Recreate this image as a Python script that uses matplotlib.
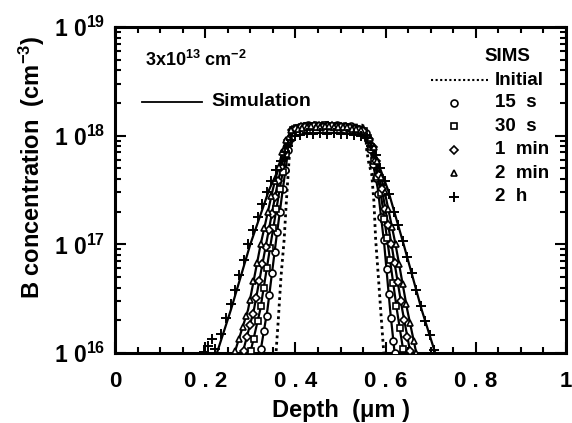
import numpy as np
import matplotlib
matplotlib.use("Agg")
import matplotlib.pyplot as plt
from matplotlib.ticker import FixedLocator, LogLocator, NullFormatter, FixedFormatter

plt.rcParams['font.family'] = ['Liberation Sans', 'DejaVu Sans']
plt.rcParams['font.weight'] = 'bold'
plt.rcParams['mathtext.fontset'] = 'custom'
plt.rcParams['mathtext.rm'] = 'Liberation Sans:bold'
plt.rcParams['mathtext.it'] = 'Liberation Sans:bold'
plt.rcParams['mathtext.bf'] = 'Liberation Sans:bold'
plt.rcParams['mathtext.default'] = 'rm'

# ---------------- data ----------------
# initial (as-implanted) profile, dotted
init_depth = [0.352, 0.357, 0.362, 0.368, 0.375, 0.380, 0.384, 0.388, 0.392, 0.400, 0.450, 0.500, 0.548, 0.555, 0.558, 0.563, 0.569, 0.574, 0.578, 0.584, 0.590, 0.596, 0.600]
init_conc = [0.8e16, 1.0e16, 2.0e16, 5.0e16, 1.1e17, 2.5e17, 4.5e17, 8.0e17, 1.15e18, 1.25e18, 1.26e18, 1.26e18, 1.25e18, 1.2e18, 7.4e17, 5.5e17, 4.5e17, 2.5e17, 1.1e17, 5.0e16, 2.2e16, 1.0e16, 0.8e16]

# simulation curves (solid)
sim15s_depth = [0.318, 0.322, 0.338, 0.356, 0.372, 0.385, 0.395, 0.410, 0.430, 0.470, 0.510, 0.535, 0.555, 0.565, 0.583, 0.597, 0.610, 0.620, 0.624]
sim15s_conc = [0.8e16, 1.0e16, 2.5e16, 1.0e17, 3.2e17, 7.9e17, 1.12e18, 1.2e18, 1.23e18, 1.24e18, 1.22e18, 1.18e18, 1.12e18, 7.9e17, 3.2e17, 1.0e17, 2.5e16, 1.0e16, 0.8e16]
sim30s_depth = [0.295, 0.300, 0.322, 0.345, 0.365, 0.382, 0.394, 0.410, 0.430, 0.470, 0.510, 0.535, 0.556, 0.568, 0.588, 0.605, 0.625, 0.640, 0.645]
sim30s_conc = [0.8e16, 1.0e16, 2.5e16, 1.0e17, 3.2e17, 7.9e17, 1.12e18, 1.19e18, 1.22e18, 1.23e18, 1.21e18, 1.17e18, 1.12e18, 7.9e17, 3.2e17, 1.0e17, 2.5e16, 1.0e16, 0.8e16]
sim1m_depth = [0.278, 0.283, 0.308, 0.335, 0.358, 0.378, 0.392, 0.410, 0.430, 0.470, 0.510, 0.535, 0.556, 0.571, 0.592, 0.613, 0.637, 0.655, 0.660]
sim1m_conc = [0.8e16, 1.0e16, 2.5e16, 1.0e17, 3.2e17, 7.9e17, 1.12e18, 1.18e18, 1.21e18, 1.22e18, 1.2e18, 1.16e18, 1.12e18, 7.9e17, 3.2e17, 1.0e17, 2.5e16, 1.0e16, 0.8e16]
sim2m_depth = [0.259, 0.265, 0.295, 0.323, 0.350, 0.374, 0.390, 0.410, 0.430, 0.470, 0.510, 0.535, 0.556, 0.574, 0.597, 0.622, 0.648, 0.668, 0.674]
sim2m_conc = [0.8e16, 1.0e16, 2.5e16, 1.0e17, 3.2e17, 7.9e17, 1.12e18, 1.17e18, 1.2e18, 1.21e18, 1.19e18, 1.15e18, 1.12e18, 7.9e17, 3.2e17, 1.0e17, 2.5e16, 1.0e16, 0.8e16]
sim2h_depth = [0.219, 0.226, 0.257, 0.300, 0.342, 0.385, 0.400, 0.420, 0.450, 0.475, 0.500, 0.530, 0.555, 0.570, 0.605, 0.640, 0.680, 0.710, 0.717]
sim2h_conc = [0.8e16, 1.0e16, 2.5e16, 1.0e17, 3.2e17, 7.9e17, 1.0e18, 1.04e18, 1.06e18, 1.06e18, 1.06e18, 1.04e18, 1.0e18, 7.9e17, 3.2e17, 1.0e17, 2.5e16, 1.0e16, 0.8e16]

# SIMS data
sims15s_depth = [0.324, 0.330, 0.336, 0.342, 0.348, 0.354, 0.360, 0.366, 0.372, 0.378, 0.384, 0.390, 0.398, 0.405, 0.412, 0.420, 0.428, 0.436, 0.444, 0.452, 0.460, 0.468, 0.476, 0.484, 0.492, 0.500, 0.508, 0.516, 0.524, 0.532, 0.540, 0.548, 0.556, 0.560, 0.566, 0.572, 0.578, 0.584, 0.590, 0.596, 0.602, 0.607, 0.612, 0.617, 0.621]
sims15s_conc = [1.1e16, 1.6e16, 2.2e16, 3.4e16, 5.4e16, 8.5e16, 1.3e17, 2.0e17, 3.2e17, 4.8e17, 7.4e17, 9.5e17, 1.15e18, 1.18e18, 1.21e18, 1.22e18, 1.25e18, 1.23e18, 1.25e18, 1.22e18, 1.24e18, 1.26e18, 1.22e18, 1.24e18, 1.25e18, 1.2e18, 1.23e18, 1.2e18, 1.22e18, 1.17e18, 1.15e18, 1.12e18, 1.05e18, 9.3e17, 7.6e17, 5.5e17, 4.1e17, 2.9e17, 1.8e17, 1.1e17, 5.9e16, 3.5e16, 2.1e16, 1.3e16, 1.0e16]
sims30s_depth = [0.302, 0.309, 0.316, 0.323, 0.330, 0.337, 0.344, 0.351, 0.358, 0.365, 0.372, 0.379, 0.386, 0.394, 0.404, 0.415, 0.425, 0.435, 0.445, 0.455, 0.465, 0.475, 0.485, 0.495, 0.505, 0.515, 0.525, 0.535, 0.545, 0.552, 0.562, 0.568, 0.575, 0.582, 0.589, 0.596, 0.603, 0.610, 0.617, 0.624, 0.631, 0.638]
sims30s_conc = [1.05e16, 1.35e16, 1.95e16, 2.7e16, 4.0e16, 6.0e16, 9.3e16, 1.4e17, 2.1e17, 3.2e17, 4.6e17, 6.8e17, 8.9e17, 1.12e18, 1.17e18, 1.2e18, 1.22e18, 1.24e18, 1.21e18, 1.22e18, 1.25e18, 1.23e18, 1.21e18, 1.23e18, 1.2e18, 1.2e18, 1.18e18, 1.16e18, 1.13e18, 1.1e18, 9.5e17, 7.9e17, 5.8e17, 4.2e17, 2.95e17, 1.7e17, 1.15e17, 7.1e16, 4.4e16, 2.7e16, 1.7e16, 1.1e16]
sims1m_depth = [0.285, 0.292, 0.299, 0.306, 0.313, 0.320, 0.327, 0.334, 0.341, 0.348, 0.355, 0.362, 0.369, 0.376, 0.384, 0.392, 0.402, 0.412, 0.422, 0.432, 0.442, 0.452, 0.462, 0.472, 0.482, 0.492, 0.502, 0.512, 0.522, 0.532, 0.542, 0.550, 0.564, 0.571, 0.578, 0.585, 0.592, 0.599, 0.606, 0.613, 0.620, 0.627, 0.634, 0.641, 0.648, 0.654]
sims1m_conc = [1.05e16, 1.4e16, 1.8e16, 2.3e16, 3.2e16, 4.6e16, 6.6e16, 9.5e16, 1.35e17, 1.9e17, 2.7e17, 3.8e17, 5.2e17, 7.2e17, 9.1e17, 1.12e18, 1.15e18, 1.19e18, 1.2e18, 1.21e18, 1.24e18, 1.23e18, 1.2e18, 1.22e18, 1.24e18, 1.21e18, 1.2e18, 1.19e18, 1.17e18, 1.15e18, 1.12e18, 1.1e18, 9.3e17, 7.9e17, 5.9e17, 4.3e17, 3.2e17, 2.1e17, 1.5e17, 1.0e17, 6.7e16, 4.5e16, 3.0e16, 2.0e16, 1.4e16, 1.05e16]
sims2m_depth = [0.267, 0.275, 0.283, 0.291, 0.299, 0.307, 0.315, 0.323, 0.331, 0.339, 0.347, 0.355, 0.363, 0.371, 0.380, 0.390, 0.405, 0.415, 0.425, 0.435, 0.445, 0.455, 0.465, 0.475, 0.485, 0.495, 0.505, 0.515, 0.525, 0.535, 0.545, 0.565, 0.574, 0.582, 0.590, 0.598, 0.606, 0.614, 0.622, 0.630, 0.638, 0.646, 0.654, 0.662, 0.668]
sims2m_conc = [1.05e16, 1.35e16, 1.75e16, 2.2e16, 3.1e16, 4.6e16, 6.7e16, 1.0e17, 1.4e17, 2.0e17, 2.8e17, 3.8e17, 5.2e17, 7.1e17, 9.1e17, 1.12e18, 1.16e18, 1.18e18, 1.2e18, 1.22e18, 1.21e18, 1.2e18, 1.23e18, 1.22e18, 1.2e18, 1.21e18, 1.19e18, 1.19e18, 1.16e18, 1.14e18, 1.12e18, 9.5e17, 7.9e17, 5.8e17, 4.2e17, 3.0e17, 2.1e17, 1.45e17, 1.0e17, 6.6e16, 4.3e16, 2.8e16, 1.9e16, 1.3e16, 1.0e16]
sims2h_depth = [0.198, 0.207, 0.214, 0.222, 0.236, 0.247, 0.257, 0.266, 0.276, 0.286, 0.296, 0.307, 0.318, 0.327, 0.336, 0.347, 0.357, 0.367, 0.376, 0.383, 0.390, 0.400, 0.410, 0.425, 0.440, 0.455, 0.470, 0.485, 0.500, 0.515, 0.530, 0.545, 0.558, 0.568, 0.578, 0.588, 0.598, 0.608, 0.618, 0.628, 0.638, 0.648, 0.658, 0.668, 0.678, 0.688, 0.698, 0.708]
sims2h_conc = [1.02e16, 1.15e16, 1.35e16, 1.1e16, 1.5e16, 2.1e16, 2.8e16, 3.8e16, 5.2e16, 7.2e16, 1.0e17, 1.35e17, 1.8e17, 2.35e17, 3.0e17, 3.8e17, 4.8e17, 5.9e17, 7.1e17, 8.1e17, 9.1e17, 1.0e18, 1.02e18, 1.05e18, 1.03e18, 1.05e18, 1.04e18, 1.05e18, 1.03e18, 1.04e18, 1.02e18, 1.0e18, 9.5e17, 8.1e17, 6.6e17, 5.0e17, 3.8e17, 2.9e17, 2.0e17, 1.5e17, 1.07e17, 7.6e16, 5.4e16, 3.8e16, 2.7e16, 1.95e16, 1.45e16, 1.07e16]

x_tick_labels = ["0", "0 . 2", "0 . 4", "0 . 6", "0 . 8", "1"]
y_tick_labels = ["1 0$^{16}$", "1 0$^{17}$", "1 0$^{18}$", "1 0$^{19}$"]
sims_labels = ["15  s", "30  s", "1  min", "2  min", "2  h"]

# ---------------- figure ----------------
fig = plt.figure(figsize=(5.72, 4.23), dpi=100)
ax = fig.add_axes([115/572, 1 - 353/423, 451/572, 326/423])

lw_sim = 1.6
for d, c in [(sim15s_depth, sim15s_conc), (sim30s_depth, sim30s_conc), (sim1m_depth, sim1m_conc),
             (sim2m_depth, sim2m_conc), (sim2h_depth, sim2h_conc)]:
    ax.plot(d, c, '-', color='black', lw=lw_sim, zorder=3)

ax.plot(init_depth, init_conc, color='black', lw=2.0, linestyle=(0, (1, 1.3)), zorder=2)

mk = dict(mfc='white', mec='black', mew=1.2, linestyle='none', zorder=4)
ax.plot(sims15s_depth, sims15s_conc, marker='o', ms=5, **mk)
ax.plot(sims30s_depth, sims30s_conc, marker='s', ms=5, **mk)
ax.plot(sims1m_depth, sims1m_conc, marker='D', ms=4.2, **mk)
ax.plot(sims2m_depth, sims2m_conc, marker='^', ms=5, **mk)
ax.plot(sims2h_depth, sims2h_conc, marker='+', ms=6.5, color='black', mew=1.4, linestyle='none', zorder=4)

ax.set_yscale('log')
ax.set_xlim(0, 1)
ax.set_ylim(1e16, 1e19)

ax.xaxis.set_major_locator(FixedLocator([0, 0.2, 0.4, 0.6, 0.8, 1.0]))
ax.xaxis.set_major_formatter(FixedFormatter(x_tick_labels))
ax.xaxis.set_minor_locator(FixedLocator([0.05, 0.1, 0.15, 0.25, 0.3, 0.35, 0.45, 0.5, 0.55, 0.65, 0.7, 0.75, 0.85, 0.9, 0.95]))
ax.yaxis.set_major_locator(FixedLocator([1e16, 1e17, 1e18, 1e19]))
ax.yaxis.set_major_formatter(FixedFormatter(y_tick_labels))
ax.yaxis.set_minor_locator(LogLocator(base=10, subs=np.arange(2, 10)))
ax.yaxis.set_minor_formatter(NullFormatter())

ax.tick_params(which='both', direction='in', top=True, right=True, width=1.5)
ax.tick_params(which='major', length=8)
ax.tick_params(which='minor', length=4.5)
ax.tick_params(axis='x', pad=13, labelsize=16)
ax.tick_params(axis='y', pad=7, labelsize=16.5)
for s in ax.spines.values():
    s.set_linewidth(2.2)

ax.set_xlabel("Depth  (\u03bcm )", fontsize=17, fontweight='bold', labelpad=5)
ax.set_ylabel("B concentration  (cm$^{-3}$)", fontsize=17, fontweight='bold')
ax.yaxis.set_label_coords(-0.15, 0.57)

# annotations
ax.text(0.066, 0.899, "3x10$^{13}$ cm$^{-2}$", transform=ax.transAxes, fontsize=13,
        fontweight='bold', va='center', ha='left')
ax.plot([0.060, 0.192], [0.770, 0.770], transform=ax.transAxes, color='black', lw=1.3)
ax.text(0.214, 0.770, "Simulation", transform=ax.transAxes, fontsize=14,
        fontweight='bold', va='center', ha='left')

ax.text(0.870, 0.908, "SIMS", transform=ax.transAxes, fontsize=13.5,
        fontweight='bold', va='center', ha='center')
ax.plot([0.700, 0.828], [0.837, 0.837], transform=ax.transAxes, color='black', lw=1.5,
        linestyle=(0, (1, 1.2)))
ax.text(0.843, 0.837, "Initial", transform=ax.transAxes, fontsize=13.5,
        fontweight='bold', va='center', ha='left')

rows_y = [0.767, 0.696, 0.623, 0.552, 0.479]
styles = [dict(marker='o', ms=5), dict(marker='s', ms=5), dict(marker='D', ms=4.2),
          dict(marker='^', ms=5)]
for yy, st in zip(rows_y[:4], styles):
    ax.plot([0.751], [yy], transform=ax.transAxes, **st, **mk)
ax.plot([0.751], [rows_y[4]], transform=ax.transAxes, marker='+', ms=6.5, color='black', mew=1.4,
        linestyle='none')
for yy, lab in zip(rows_y, sims_labels):
    ax.text(0.843, yy, lab, transform=ax.transAxes, fontsize=13.5, fontweight='bold',
            va='center', ha='left')

fig.savefig("out.png", dpi=100)
